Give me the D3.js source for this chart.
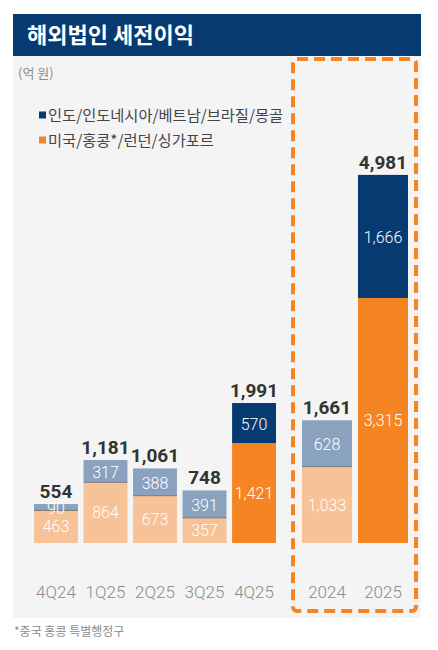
<!DOCTYPE html>
<html>
<head>
<meta charset="utf-8">
<script src="https://cdn.jsdelivr.net/npm/d3@7"></script>
<style>
  body { margin: 0; background: #fff; }
  svg text { font-family: Roboto, "Liberation Sans", sans-serif; }
  .kr { font-family: "Noto Sans CJK KR", sans-serif; }
</style>
</head>
<body>
<div id="chartArea"></div>
<script>
// 분기 데이터 (억 원)
const quarters = ['4Q24', '1Q25', '2Q25', '3Q25', '4Q25'];
const qAsia = [90, 317, 388, 391, 570];      // 인도/인도네시아/베트남/브라질/몽골
const qWest = [463, 864, 673, 357, 1421];    // 미국/홍콩/런던/싱가포르
const qTotal = [554, 1181, 1061, 748, 1991];

// 연간 데이터
const years = ['2024', '2025'];
const yAsia = [628, 1666];
const yWest = [1033, 3315];
const yTotal = [1661, 4981];

const highlight = ['4Q25', '2025'];
const legendLabels = ['인도/인도네시아/베트남/브라질/몽골', '미국/홍콩*/런던/싱가포르'];

var width = 438, height = 650;
var base = 543;
var colors = {navy: '#073A70', orange: '#F58522', blueGray: '#8AA2BD', peach: '#F7C297'};

var svg = d3.select('#chartArea').append('svg')
    .attr('width', width)
    .attr('height', height);

// panel background + title bar
svg.append('rect').attr('x', 13).attr('y', 56).attr('width', 408).attr('height', 562).attr('fill', '#f4f4f4');
svg.append('rect').attr('x', 13).attr('y', 14).attr('width', 408).attr('height', 42).attr('fill', colors.navy);
svg.append('text').attr('class', 'kr')
    .attr('x', 27).attr('y', 35).attr('dy', '0.36em')
    .attr('fill', '#fff').attr('font-size', 22).attr('font-weight', 700)
    .text('해외법인 세전이익');

svg.append('text').attr('class', 'kr')
    .attr('x', 18).attr('y', 73).attr('dy', '0.36em')
    .attr('fill', '#8c8c8c').attr('font-size', 13)
    .text('(억 원)');

// legend
var legend = svg.append('g');
legendLabels.forEach(function(t, i) {
    var cy = 115 + i * 25;
    legend.append('rect').attr('x', 39).attr('y', cy - 3.5).attr('width', 7).attr('height', 7)
        .attr('fill', i == 0 ? colors.navy : colors.orange);
    legend.append('text').attr('class', 'kr')
        .attr('x', 48).attr('y', cy).attr('dy', '0.36em')
        .attr('fill', '#444').attr('font-size', 15.3)
        .text(t);
});

// scales
var xQ = d3.scaleBand().domain(quarters).range([34, 276]).paddingInner(0.113).paddingOuter(0);
var xY = d3.scaleBand().domain(years).range([302, 408]).paddingInner(0.107).paddingOuter(0);
var yQ = d3.scaleLinear().domain([0, 2000]).range([base, base - 140.6]);
var yY = d3.scaleLinear().domain([0, 5000]).range([base, base - 369.5]);

var fmt = d3.format(',');

function drawGroup(cats, asia, west, total, x, y) {
    var rows = cats.map(function(c, i) {
        return {cat: c, asia: asia[i], west: west[i], total: total[i], hi: highlight.indexOf(c) >= 0};
    });
    var g = svg.append('g');
    var bar = g.selectAll('g.bar').data(rows).enter().append('g').attr('class', 'bar');

    // bottom segment (미국/홍콩/런던/싱가포르)
    bar.append('rect')
        .attr('x', function(d) { return x(d.cat); })
        .attr('width', x.bandwidth())
        .attr('y', function(d) { return y(d.west); })
        .attr('height', function(d) { return y(0) - y(d.west); })
        .attr('fill', function(d) { return d.hi ? colors.orange : colors.peach; });
    // top segment (아시아 등)
    bar.append('rect')
        .attr('x', function(d) { return x(d.cat); })
        .attr('width', x.bandwidth())
        .attr('y', function(d) { return y(d.total); })
        .attr('height', function(d) { return y(d.west) - y(d.total); })
        .attr('fill', function(d) { return d.hi ? colors.navy : colors.blueGray; });
    // thin divider on the light bars
    bar.filter(function(d) { return !d.hi; }).append('line')
        .attr('x1', function(d) { return x(d.cat); })
        .attr('x2', function(d) { return x(d.cat) + x.bandwidth(); })
        .attr('y1', function(d) { return y(d.west); })
        .attr('y2', function(d) { return y(d.west); })
        .attr('stroke', '#7a7a7a').attr('stroke-width', 1);

    // segment labels
    bar.append('text')
        .attr('x', function(d) { return x(d.cat) + x.bandwidth() / 2; })
        .attr('y', function(d) { return (y(0) + y(d.west)) / 2; })
        .attr('dy', '0.36em').attr('text-anchor', 'middle')
        .attr('fill', '#fff').attr('font-size', 16).attr('font-weight', 300)
        .text(function(d) { return fmt(d.west); });
    bar.append('text')
        .attr('x', function(d) { return x(d.cat) + x.bandwidth() / 2; })
        .attr('y', function(d) { return (y(d.west) + y(d.total)) / 2 + 1; })
        .attr('dy', '0.36em').attr('text-anchor', 'middle')
        .attr('fill', '#fff').attr('font-size', 16).attr('font-weight', 300)
        .text(function(d) { return fmt(d.asia); });

    // totals
    bar.append('text')
        .attr('x', function(d) { return x(d.cat) + x.bandwidth() / 2; })
        .attr('y', function(d) { return y(d.total) - 6; })
        .attr('text-anchor', 'middle')
        .attr('fill', '#333').attr('font-size', 19).attr('font-weight', 700)
        .text(function(d) { return fmt(d.total); });

    // category axis (no line, no ticks)
    var axis = g.append('g')
        .attr('transform', 'translate(0,' + 592 + ')')
        .call(d3.axisBottom(x).tickSize(0).tickPadding(0));
    axis.select('.domain').remove();
    axis.selectAll('text')
        .attr('dy', '0.36em')
        .attr('fill', '#8c8c8c')
        .attr('font-size', 17)
        .attr('font-weight', 300)
        .attr('font-family', 'Roboto, "Liberation Sans", sans-serif');
}

drawGroup(quarters, qAsia, qWest, qTotal, xQ, yQ);
drawGroup(years, yAsia, yWest, yTotal, xY, yY);

// dashed highlight box around annual bars
svg.append('rect')
    .attr('x', 293).attr('y', 59).attr('width', 123).attr('height', 552)
    .attr('rx', 4)
    .attr('fill', 'none')
    .attr('stroke', '#F58522').attr('stroke-width', 4)
    .attr('stroke-dasharray', '11,6');

svg.append('text').attr('class', 'kr')
    .attr('x', 14).attr('y', 632).attr('dy', '0.36em')
    .attr('fill', '#8c8c8c').attr('font-size', 12)
    .text('*중국 홍콩 특별행정구');
</script>
</body>
</html>
